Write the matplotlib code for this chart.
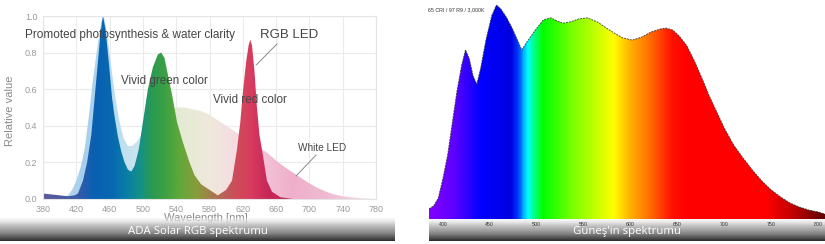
import matplotlib
matplotlib.use('Agg')
import matplotlib.pyplot as plt
import numpy as np
from matplotlib.colors import LinearSegmentedColormap

plt.rcParams['font.family'] = ['Liberation Sans', 'DejaVu Sans']

# ---- left chart: ADA Solar RGB vs white LED ----
rgb_nm = [380, 390, 400, 410, 418, 422, 428, 433, 438, 442, 446, 449, 452, 455, 459, 463, 466, 470, 474, 478,
          482, 486, 490, 495, 500, 506, 512, 518, 522, 526, 530, 535, 541, 548, 556, 562, 570, 580, 590, 600,
          607, 613, 617, 620, 624, 627, 629, 631, 634, 637, 640, 643, 649, 655, 665, 680, 780]
rgb_val = [0.03, 0.025, 0.02, 0.015, 0.02, 0.03, 0.10, 0.20, 0.35, 0.55, 0.75, 0.90, 1.0, 0.93, 0.75, 0.55, 0.45, 0.34, 0.26, 0.20,
           0.16, 0.15, 0.18, 0.27, 0.42, 0.60, 0.72, 0.79, 0.80, 0.77, 0.68, 0.57, 0.42, 0.31, 0.20, 0.13, 0.08, 0.05, 0.02, 0.05,
           0.10, 0.27, 0.42, 0.58, 0.75, 0.84, 0.87, 0.84, 0.70, 0.50, 0.35, 0.27, 0.10, 0.04, 0.01, 0.0, 0.0]

white_nm = [380, 400, 410, 415, 420, 425, 430, 435, 440, 445, 450, 453, 457, 462, 467, 472, 477, 482, 487, 492,
            500, 510, 520, 530, 540, 550, 560, 570, 580, 590, 600, 610, 620, 630, 640, 650, 660, 670, 680, 690,
            700, 710, 720, 730, 740, 760, 780]
white_val = [0.01, 0.01, 0.02, 0.05, 0.10, 0.17, 0.27, 0.45, 0.65, 0.82, 0.97, 1.0, 0.90, 0.72, 0.55, 0.42, 0.33, 0.29, 0.29, 0.31,
             0.36, 0.43, 0.47, 0.49, 0.50, 0.50, 0.49, 0.48, 0.46, 0.43, 0.40, 0.37, 0.34, 0.31, 0.28, 0.25, 0.21, 0.175, 0.145, 0.115,
             0.085, 0.06, 0.04, 0.025, 0.015, 0.005, 0.0]

left_xticks = [380, 420, 460, 500, 540, 580, 620, 660, 700, 740, 780]
left_yticks = [0.0, 0.2, 0.4, 0.6, 0.8, 1.0]

rgb_stops = [(380, '#5c5c98'), (420, '#3a5aa8'), (440, '#0a60b2'), (462, '#0868b0'), (480, '#0a7ea6'),
             (496, '#14908a'), (510, '#2a9a52'), (525, '#3aa044'), (545, '#62a83a'), (565, '#8a9c3c'),
             (585, '#a87850'), (602, '#c05a5a'), (615, '#d04a5a'), (630, '#d83c5e'), (650, '#c82858'), (780, '#b02050')]
white_stops = [(380, '#c8d8ea'), (430, '#a6cfea'), (460, '#b6dbef'), (490, '#c8e4ee'), (520, '#dbe8d8'),
               (550, '#e6ebd4'), (580, '#efe8dc'), (610, '#f5dde2'), (640, '#f4c6d8'), (680, '#efafcb'),
               (720, '#f0bad2'), (780, '#f8e0ea')]

# ---- right chart: sun spectrum ----
sun_nm = [385, 390, 395, 400, 405, 410, 415, 420, 424, 428, 432, 436, 440, 446, 452, 457, 462, 468, 474, 480,
          484, 490, 498, 507, 515, 522, 528, 535, 545, 554, 565, 575, 584, 592, 602, 612, 622, 632, 638, 645,
          652, 660, 668, 676, 684, 692, 700, 710, 720, 730, 740, 750, 760, 770, 780, 790, 800, 807.5]
sun_val = [0.047, 0.061, 0.098, 0.19, 0.30, 0.45, 0.60, 0.72, 0.79, 0.75, 0.67, 0.63, 0.70, 0.84, 0.95, 1.0, 0.98, 0.94, 0.89, 0.83,
           0.79, 0.83, 0.88, 0.93, 0.94, 0.925, 0.915, 0.92, 0.935, 0.94, 0.92, 0.89, 0.865, 0.846, 0.836, 0.85, 0.874, 0.888, 0.892, 0.883,
           0.855, 0.81, 0.74, 0.66, 0.575, 0.50, 0.425, 0.346, 0.285, 0.229, 0.178, 0.136, 0.103, 0.075, 0.056, 0.042, 0.033, 0.023]
sun_xticks = [400, 450, 500, 550, 600, 650, 700, 750, 800]
sun_stops = [(385, '#8000ff'), (410, '#6000ff'), (430, '#2000ff'), (440, '#0000ff'), (472, '#0000e0'),
             (480, '#0040ff'), (486, '#00c0ff'), (490, '#00ffff'), (496, '#00ff90'), (506, '#00ff00'),
             (540, '#80ff00'), (582, '#ffff00'), (600, '#ffb000'), (620, '#ff7000'), (645, '#ff1000'),
             (660, '#ff0000'), (745, '#ff0000'), (775, '#c00000'), (807.5, '#600000')]

W, H = 825, 244
fig = plt.figure(figsize=(W / 100, H / 100), dpi=100)


def box(x0, y0, x1, y1):
    # pixel box (top-left origin) -> figure rect
    return [x0 / W, 1 - y1 / H, (x1 - x0) / W, (y1 - y0) / H]


def gradient_fill(ax, x, y, stops, zorder):
    x0, x1 = stops[0][0], stops[-1][0]
    poly = ax.fill_between(x, y, 0, color='none', lw=0)
    cmap = LinearSegmentedColormap.from_list('g', [((s - x0) / (x1 - x0), c) for s, c in stops])
    grad = np.linspace(0, 1, 600).reshape(1, -1)
    im = ax.imshow(grad, cmap=cmap, extent=[x0, x1, 0, 1], aspect='auto', origin='lower',
                   zorder=zorder, interpolation='bilinear')
    im.set_clip_path(poly.get_paths()[0], transform=ax.transData)


# left chart
ax = fig.add_axes(box(43, 16, 376, 199), zorder=1)
gradient_fill(ax, white_nm, white_val, white_stops, 1)
gradient_fill(ax, rgb_nm, rgb_val, rgb_stops, 2)
ax.set_xlim(380, 780)
ax.set_ylim(0, 1.0)
ax.set_xticks(left_xticks)
ax.set_yticks(left_yticks)
ax.set_yticklabels(['%.1f' % v for v in left_yticks])
ax.grid(True, color='#ebebeb', lw=0.8, zorder=0)
ax.set_axisbelow(True)
for s in ax.spines.values():
    s.set_color('#e4e4e4')
    s.set_linewidth(0.8)
ax.tick_params(length=0, labelsize=6.5, labelcolor='#9a9a9a', pad=4)
ax.set_ylabel('Relative value', fontsize=8, color='#8a8a8a')
ax.yaxis.set_label_coords(-0.085, 0.48)
ax.set_xlabel('Wavelength [nm]', fontsize=8, color='#8a8a8a')
ax.xaxis.set_label_coords(0.49, -0.075)

txt = dict(color='#454545', va='center', ha='left', zorder=5)
ax.text(358, 0.896, 'Promoted photosynthesis & water clarity', fontsize=8.5, **txt)
ax.text(641, 0.896, 'RGB LED', fontsize=9.5, **txt)
ax.text(474, 0.645, 'Vivid green color', fontsize=8.4, **txt)
ax.text(584, 0.54, 'Vivid red color', fontsize=8.4, **txt)
ax.text(686, 0.276, 'White LED', fontsize=7.2, **txt)
ax.plot([661, 636], [0.847, 0.732], color='#8a8a8a', lw=0.7, zorder=5)
ax.plot([708, 684], [0.24, 0.126], color='#8a8a8a', lw=0.7, zorder=5)

# right chart
ax2 = fig.add_axes(box(429, 5, 825, 219), zorder=3)
ax2.patch.set_alpha(0)
gradient_fill(ax2, sun_nm, sun_val, sun_stops, 1)
ax2.plot(sun_nm, sun_val, color='#303030', lw=0.7, ls=(0, (2, 1)), alpha=0.8, zorder=2)
ax2.set_xlim(385.07, 807.47)
ax2.set_ylim(0, 1)
ax2.set_xticks(sun_xticks)
ax2.set_xticklabels([str(v) for v in sun_xticks])
ax2.set_yticks([])
ax2.tick_params(length=0, labelsize=3.8, labelcolor='#333333', pad=2)
for s in ax2.spines.values():
    s.set_visible(False)
fig.text(428 / W, 1 - 10 / H, '65 CRI / 97 R9 / 3,000K', fontsize=3.8, color='#333333', va='center')

# caption bars
bar_cmap = LinearSegmentedColormap.from_list(
    'bar', [(0, '#f2f2f2'), (0.3, '#c4c4c4'), (0.65, '#888888'), (0.9, '#484848'), (1, '#2c2c2c')])


def gray_bar(rect, label, z):
    bx = fig.add_axes(rect, zorder=z)
    t = np.linspace(0, 1, 64)
    rgba = bar_cmap(t)[:, None, :]
    rgba[:, 0, 3] = np.clip(0.45 + t * 2.0, 0, 1)   # top of the bar lets the label behind show through
    bx.imshow(rgba, aspect='auto', extent=[0, 1, 0, 1], origin='upper')
    bx.set_axis_off()
    bx.text(0.5, 0.42, label, color='white', fontsize=8.2, family=['Open Sans', 'DejaVu Sans'],
            ha='center', va='center', transform=bx.transAxes)


gray_bar(box(0, 218, 395, 241), 'ADA Solar RGB spektrumu', 2)
gray_bar(box(429, 219, 825, 241), "Güneş'in spektrumu", 2)

fig.savefig('out.png', dpi=100)
